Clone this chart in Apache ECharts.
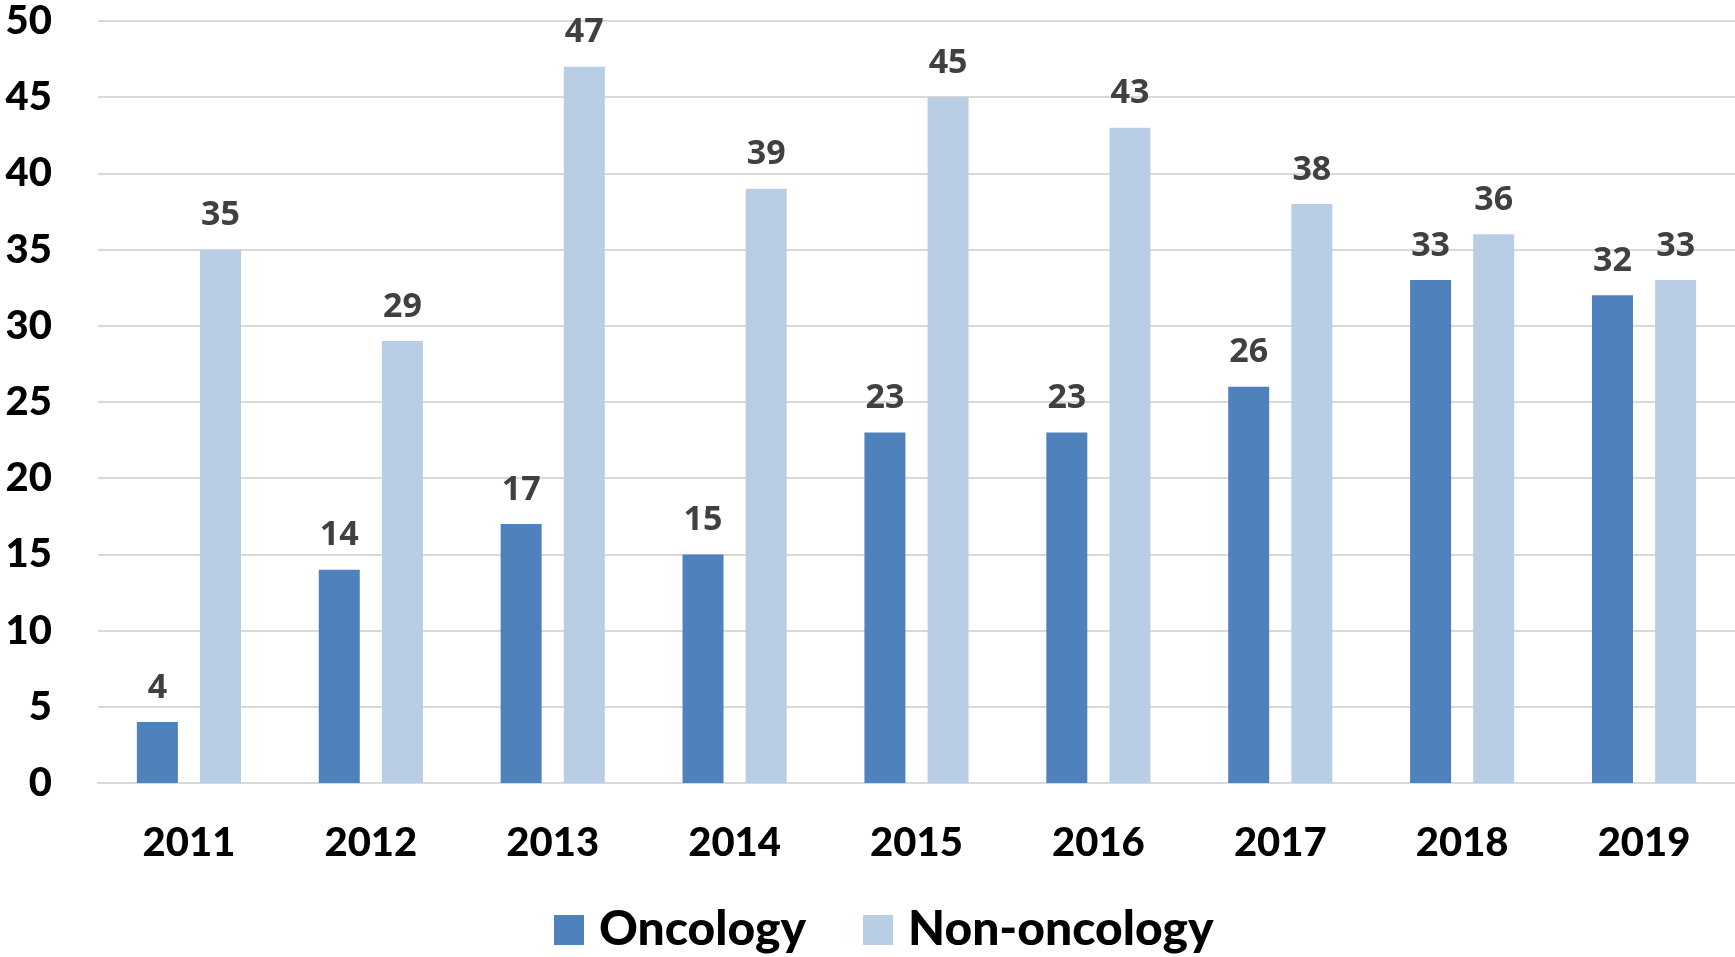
<!DOCTYPE html>
<html>
<head>
<meta charset="utf-8">
<script src="https://cdn.jsdelivr.net/npm/echarts@6/dist/echarts.min.js"></script>
<style>
  html, body { margin: 0; padding: 0; background: #fff; }
  #chart { width: 1735px; height: 957px; }
</style>
</head>
<body>
<div id="chart"></div>
<script>
const years = ['2011', '2012', '2013', '2014', '2015', '2016', '2017', '2018', '2019'];
const oncology = [4, 14, 17, 15, 23, 23, 26, 33, 32];
const nonOncology = [35, 29, 47, 39, 45, 43, 38, 36, 33];

const chart = echarts.init(document.getElementById('chart'));

const labelStyle = {
  show: true,
  position: 'top',
  distance: 17,
  color: '#404040',
  fontFamily: 'Open Sans, sans-serif',
  fontWeight: 'bold',
  fontSize: 34
};

chart.setOption({
  animation: false,
  grid: { left: 98, right: 0, top: 21, bottom: 174 },
  legend: {
    bottom: -2,
    left: 549,
    itemWidth: 30,
    itemHeight: 30,
    itemGap: 57,
    icon: 'rect',
    textStyle: {
      color: '#000',
      fontFamily: 'Lato, sans-serif',
      fontWeight: 900,
      fontSize: 48,
      padding: [0, 0, 0, 10]
    },
    data: ['Oncology', 'Non-oncology']
  },
  xAxis: {
    type: 'category',
    data: years,
    axisTick: { show: false },
    axisLine: { show: true, lineStyle: { color: '#d9d9d9', width: 2 } },
    axisLabel: {
      margin: 40,
      color: '#000',
      fontFamily: 'Lato, sans-serif',
      fontWeight: 900,
      fontSize: 40
    }
  },
  yAxis: {
    type: 'value',
    min: 0,
    max: 50,
    interval: 5,
    axisLine: { show: false },
    axisTick: { show: false },
    splitLine: { lineStyle: { color: '#d9d9d9', width: 2 } },
    axisLabel: {
      margin: 46,
      color: '#000',
      fontFamily: 'Lato, sans-serif',
      fontWeight: 900,
      fontSize: 40
    }
  },
  series: [
    {
      name: 'Oncology',
      type: 'bar',
      data: oncology,
      barWidth: 41,
      barGap: '54%',
      itemStyle: { color: '#4f81bd' },
      label: labelStyle
    },
    {
      name: 'Non-oncology',
      type: 'bar',
      data: nonOncology,
      barWidth: 41,
      itemStyle: { color: '#b9cde5' },
      label: labelStyle
    }
  ]
});
</script>
</body>
</html>
